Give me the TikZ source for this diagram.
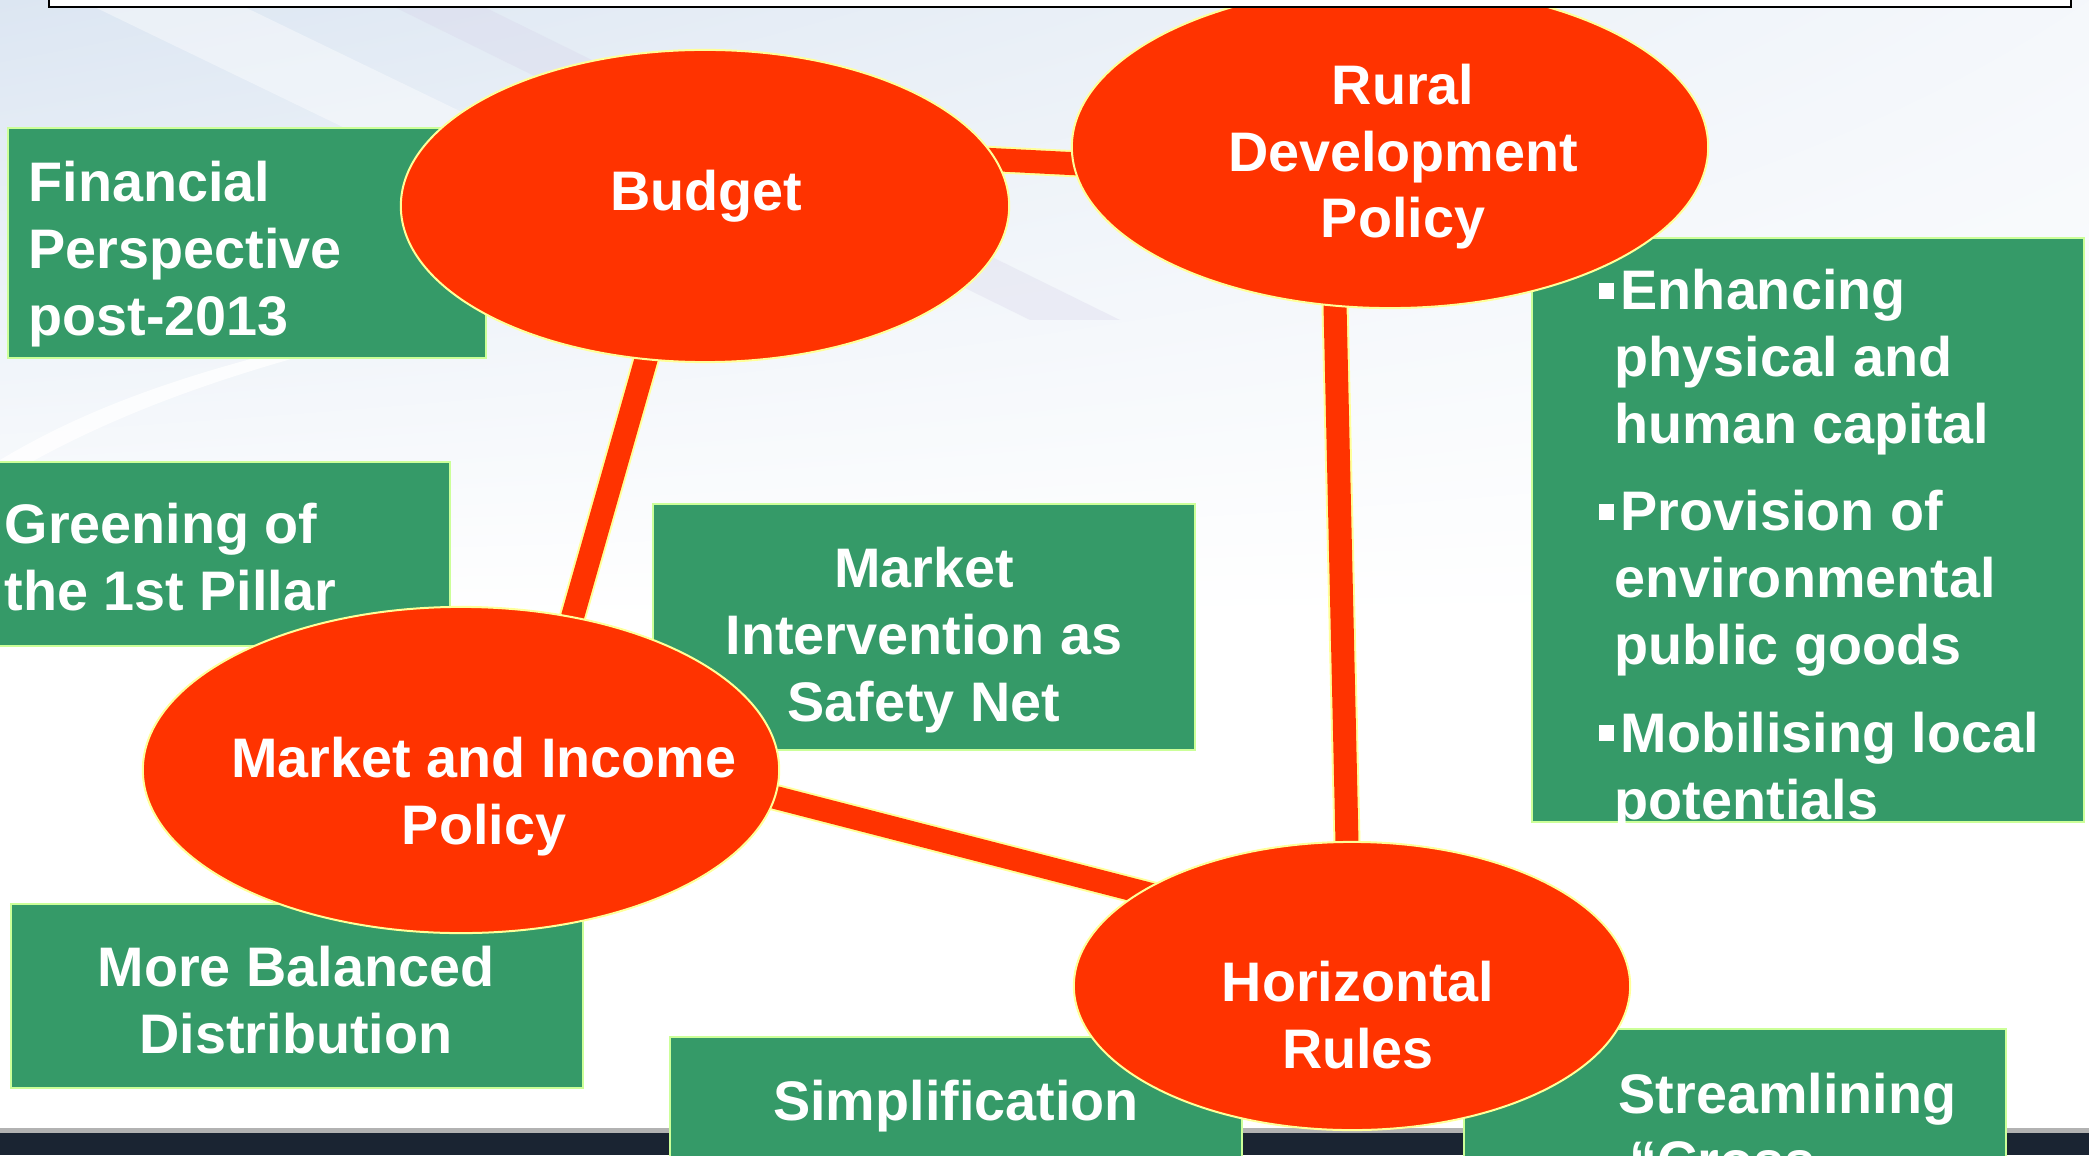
\documentclass[tikz,border=0pt]{standalone}
\usepackage{fontspec}
\setmainfont{Liberation Sans}
\usetikzlibrary{shapes,backgrounds,positioning,shadings}
\definecolor{policyred}{RGB}{255,51,0}
\definecolor{boxgreen}{RGB}{53,154,104}
\definecolor{rimyellow}{RGB}{255,255,153}
\definecolor{rimgreen}{RGB}{204,255,153}
\definecolor{stripdark}{RGB}{26,36,50}
\definecolor{bgblue}{RGB}{220,230,242}
\definecolor{bglilac}{RGB}{214,210,232}
\newcommand{\bigfont}{\fontsize{15.85pt}{19.05pt}\selectfont\bfseries}
\newcommand{\sqb}{\hspace*{1.7pt}\llap{\rule[3.1pt]{4.3pt}{4.6pt}\hspace{2pt}}}
\tikzset{
	policy/.style={
		ellipse, inner sep=0pt, fill=policyred, draw=rimyellow, line width=0.02cm
	},
	%
	greenbox/.style={
		rectangle, inner sep=0pt, fill=boxgreen, draw=rimgreen, line width=0.02cm
	},
	%
	caption/.style={
		inner sep=0pt, text=white, font=\bigfont, align=center, anchor=base
	},
	%
	link/.style={
		line width=0.02cm, draw=rimyellow, double=policyred, double distance=0.23cm,
		shorten <=-0.3cm, shorten >=-0.3cm
	}
}

\begin{document}
\begin{tikzpicture}[x=0.01cm, y=-0.01cm]
    \useasboundingbox (0,0) rectangle (2089,1155);
    \begin{scope}[on background layer]
    \fill[white] (0,0) rectangle (2089,1155);
    \shade[upper left=bgblue, upper right=bgblue!30!white, lower left=white, lower right=white] (0,0) rectangle (2089,620);
    \fill[white, opacity=0.4] (80,0) -- (230,0) -- (830,290) -- (680,290) -- cycle;
    \fill[bglilac, opacity=0.3] (380,0) -- (470,0) -- (1120,320) -- (1030,320) -- cycle;
    \fill[white, opacity=0.8] (0,460) .. controls (100,400) and (220,360) .. (420,320) -- (420,326) .. controls (220,372) and (100,420) .. (0,480) -- cycle;
    \fill[gray!60] (0,1128) rectangle (2089,1133);
    \fill[stripdark] (0,1133) rectangle (2089,1155);
    \end{scope}
    % boxes
    \node(fin)[greenbox, minimum width=4.78cm, minimum height=2.30cm] at (247,243){};
    \node(green)[greenbox, minimum width=4.59cm, minimum height=1.83cm] at (220,554){};
    \node(bal)[greenbox, minimum width=5.71cm, minimum height=1.84cm] at (297,996){};
    \node(safety)[greenbox, minimum width=5.42cm, minimum height=2.46cm] at (924,627){};
    \node(rdpbox)[greenbox, minimum width=5.52cm, minimum height=5.84cm] at (1808,530){};
    \node(simp)[greenbox, minimum width=5.72cm, minimum height=1.63cm] at (956,1119){};
    \node(stream)[greenbox, minimum width=5.42cm, minimum height=1.71cm] at (1735,1115){};
    % policies
    \node(budget)[policy, minimum width=6.08cm, minimum height=3.12cm] at (705,206){};
    \node(rdp)[policy, minimum width=6.36cm, minimum height=3.22cm] at (1390,147){};
    \node(mip)[policy, minimum width=6.36cm, minimum height=3.26cm] at (461,770){};
    \node(hr)[policy, minimum width=5.56cm, minimum height=2.88cm] at (1352,986){};
    \begin{scope}[on background layer]
    \draw[link] (budget.9) -- (rdp.183);
    \draw[link] (budget.249) -- (mip.54);
    \draw[link] (mip.355) -- (hr.156);
    \draw[link] (rdp.251) -- (hr.92);
    \end{scope}
    % texts (base = last line)
    \node(budget-t)[caption] at (706,211){Budget};
    \node(rdp-t)[caption] at (1403,238){Rural\\Development\\Policy};
    \node(mip-t)[caption] at (484,844){Market and Income\\Policy};
    \node(hr-t)[caption] at (1358,1068){Horizontal\\Rules};
    \node(fin-t)[caption, align=left, anchor=base west] at (28,335){Financial\\Perspective\\post-2013};
    \node(green-t)[caption, align=left, anchor=base west] at (4,610){Greening of\\the 1st Pillar};
    \node(bal-t)[caption] at (296,1053){More Balanced\\Distribution};
    \node(safety-t)[caption] at (924,721){Market\\Intervention as\\Safety Net};
    \node(simp-t)[caption] at (956,1120){Simplification};
    \node(stream-t)[caption, align=left, anchor=base west] at (1618,1180){Streamlining\\\hspace*{3pt}“Cross};
    \begin{scope}
    \clip (rdpbox.south west) rectangle (rdpbox.north east);
    \node(rdpbox-t)[caption, align=left, anchor=base west] at (1614,819){\sqb Enhancing\\physical and\\human capital\\[5.7pt]\sqb Provision of\\environmental\\public goods\\[5.7pt]\sqb Mobilising local\\potentials};
    \end{scope}
    % cut title bar
    \node(title)[draw=black, line width=0.02cm, fill=white, minimum width=20.21cm, minimum height=0.4cm, anchor=south west] at (48,8){};
\end{tikzpicture}
\end{document}
